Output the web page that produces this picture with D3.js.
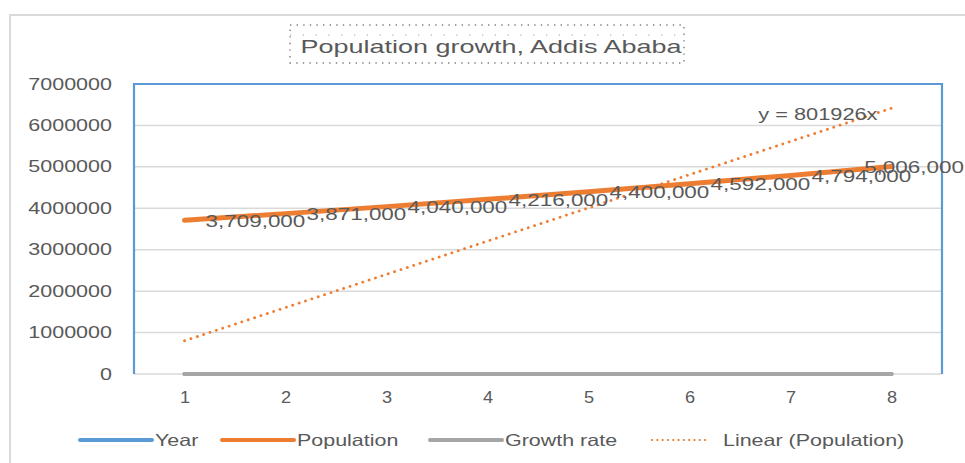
<!DOCTYPE html>
<html>
<head>
<meta charset="utf-8">
<script src="https://cdn.jsdelivr.net/npm/d3@7"></script>
<style>
  html, body { margin: 0; padding: 0; background: #fff; }
  svg { display: block; }
  text { font-family: "Liberation Sans", Arial, sans-serif; fill: #595959; }
</style>
</head>
<body>
<svg id="chart" width="965" height="463"></svg>
<script>
// Series data
const periods = [1, 2, 3, 4, 5, 6, 7, 8];
const years = [2016, 2017, 2018, 2019, 2020, 2021, 2022, 2023];
const population = [3709000, 3871000, 4040000, 4216000, 4400000, 4592000, 4794000, 5006000];
const growthRate = [4.4, 4.4, 4.4, 4.4, 4.4, 4.4, 4.4, 4.4];
const yTicks = [0, 1000000, 2000000, 3000000, 4000000, 5000000, 6000000, 7000000];
const chartTitle = "Population growth, Addis Ababa";
const legendItems = [
  { name: "Year", color: "#5b9bd5", dotted: false },
  { name: "Population", color: "#ed7d31", dotted: false },
  { name: "Growth rate", color: "#a5a5a5", dotted: false },
  { name: "Linear (Population)", color: "#ed7d31", dotted: true }
];

const W = 965, H = 463;
const plot = { left: 134, right: 942, top: 84, bottom: 374 };
const svg = d3.select("#chart");

// Widen text horizontally to the chart's broad lettering
function widen(sel, k) {
  sel.each(function () {
    const w = this.getComputedTextLength();
    d3.select(this).attr("textLength", w * k).attr("lengthAdjust", "spacingAndGlyphs");
  });
}

const x = d3.scalePoint().domain(periods).range([plot.left, plot.right]).padding(0.5);
const y = d3.scaleLinear().domain([0, 7000000]).range([plot.bottom, plot.top]);

// Chart area frame
svg.append("rect")
  .attr("x", 10).attr("y", 15).attr("width", W + 20).attr("height", H + 20)
  .attr("fill", "#fff").attr("stroke", "#d9d9d9").attr("stroke-width", 2);

// Title with dotted selection frame
const titleBox = { x: 290, y: 25, w: 394, h: 38 };
svg.append("rect")
  .attr("x", titleBox.x).attr("y", titleBox.y).attr("width", titleBox.w).attr("height", titleBox.h)
  .attr("fill", "none").attr("stroke", "#7f7f7f").attr("stroke-width", 1.4)
  .attr("stroke-dasharray", "1.4,5.2");
svg.append("line")
  .attr("x1", titleBox.x).attr("x2", titleBox.x + titleBox.w)
  .attr("y1", titleBox.y + 10).attr("y2", titleBox.y + 10)
  .attr("stroke", "#9a9a9a").attr("stroke-width", 1.2)
  .attr("stroke-dasharray", "1.2,11.6");
const title = svg.append("text")
  .attr("x", 491).attr("y", 53)
  .attr("text-anchor", "middle")
  .attr("font-size", 19)
  .text(chartTitle);
widen(title, 1.42);

// Gridlines
svg.append("g").selectAll("line").data(yTicks).join("line")
  .attr("x1", plot.left).attr("x2", plot.right)
  .attr("y1", d => y(d)).attr("y2", d => y(d))
  .attr("stroke", "#d9d9d9").attr("stroke-width", 1.5);

// Plot area border
svg.append("path")
  .attr("d", `M${plot.left},${plot.bottom}V${plot.top}H${plot.right}V${plot.bottom}`)
  .attr("fill", "none").attr("stroke", "#5b9bd5").attr("stroke-width", 2.2);

// Y axis
const yAxis = svg.append("g")
  .attr("transform", `translate(112,0)`)
  .call(d3.axisLeft(y).tickValues(yTicks).tickSize(0).tickPadding(0).tickFormat(d3.format("d")));
yAxis.select(".domain").remove();
yAxis.selectAll("text").attr("font-size", 15.6).attr("font-family", null).attr("fill", "#595959");
widen(yAxis.selectAll("text"), 1.38);

// X axis
const xAxis = svg.append("g")
  .attr("transform", `translate(0,${plot.bottom})`)
  .call(d3.axisBottom(x).tickSize(0).tickPadding(17));
xAxis.select(".domain").remove();
xAxis.selectAll("text").attr("font-size", 16.5).attr("font-family", null).attr("fill", "#595959");
widen(xAxis.selectAll("text"), 1.1);

// Linear trendline through the origin (least squares)
const slope = d3.sum(periods, (p, i) => p * population[i]) / d3.sum(periods, p => p * p);
const trend = periods.map(p => [p, slope * p]);
const line = d3.line().x(d => x(d[0])).y(d => y(d[1]));
svg.append("path")
  .attr("d", line(trend))
  .attr("fill", "none").attr("stroke", "#ed7d31").attr("stroke-width", 2.8)
  .attr("stroke-linecap", "round").attr("stroke-dasharray", "0.1,6.6");

// Year series
svg.append("path")
  .attr("d", line(periods.map((p, i) => [p, years[i]])))
  .attr("fill", "none").attr("stroke", "#5b9bd5").attr("stroke-width", 4)
  .attr("stroke-linecap", "round");

// Growth rate series
svg.append("path")
  .attr("d", line(periods.map((p, i) => [p, growthRate[i]])))
  .attr("fill", "none").attr("stroke", "#a5a5a5").attr("stroke-width", 4)
  .attr("stroke-linecap", "round");

// Population series
svg.append("path")
  .attr("d", line(periods.map((p, i) => [p, population[i]])))
  .attr("fill", "none").attr("stroke", "#ed7d31").attr("stroke-width", 5)
  .attr("stroke-linecap", "round").attr("stroke-linejoin", "round");

// Data labels to the right of each point, kept inside the chart
const fmt = d3.format(",");
svg.append("g").selectAll("text").data(periods).join("text")
  .attr("font-size", 17)
  .attr("dominant-baseline", "central")
  .attr("y", (p, i) => y(population[i]) + 1)
  .text((p, i) => fmt(population[i]))
  .each(function (p) {
    const w = this.getComputedTextLength() * 1.32;
    d3.select(this)
      .attr("textLength", w).attr("lengthAdjust", "spacingAndGlyphs")
      .attr("x", Math.min(x(p) + 21, W - 1 - w));
  });

// Trendline equation
const eq = svg.append("text")
  .attr("x", x(periods[periods.length - 1]) - 14)
  .attr("y", y(slope * periods[periods.length - 1]) + 6)
  .attr("text-anchor", "end")
  .attr("dominant-baseline", "central")
  .attr("font-size", 17)
  .text(`y = ${Math.round(slope)}x`);
widen(eq, 1.28);

// Legend
const legendX = [80, 222, 430, 652];
const legend = svg.append("g").selectAll("g").data(legendItems).join("g")
  .attr("transform", (d, i) => `translate(${legendX[i]},440)`);
legend.append("line")
  .attr("x1", 0).attr("x2", d => d.dotted ? 58 : 72)
  .attr("stroke", d => d.color)
  .attr("stroke-width", d => d.dotted ? 2.2 : 4)
  .attr("stroke-linecap", "round")
  .attr("stroke-dasharray", d => d.dotted ? "0.1,5.2" : null);
const legendText = legend.append("text")
  .attr("x", d => d.dotted ? 71 : 75)
  .attr("dominant-baseline", "central")
  .attr("font-size", 16.5)
  .text(d => d.name);
widen(legendText, 1.3);
</script>
</body>
</html>
